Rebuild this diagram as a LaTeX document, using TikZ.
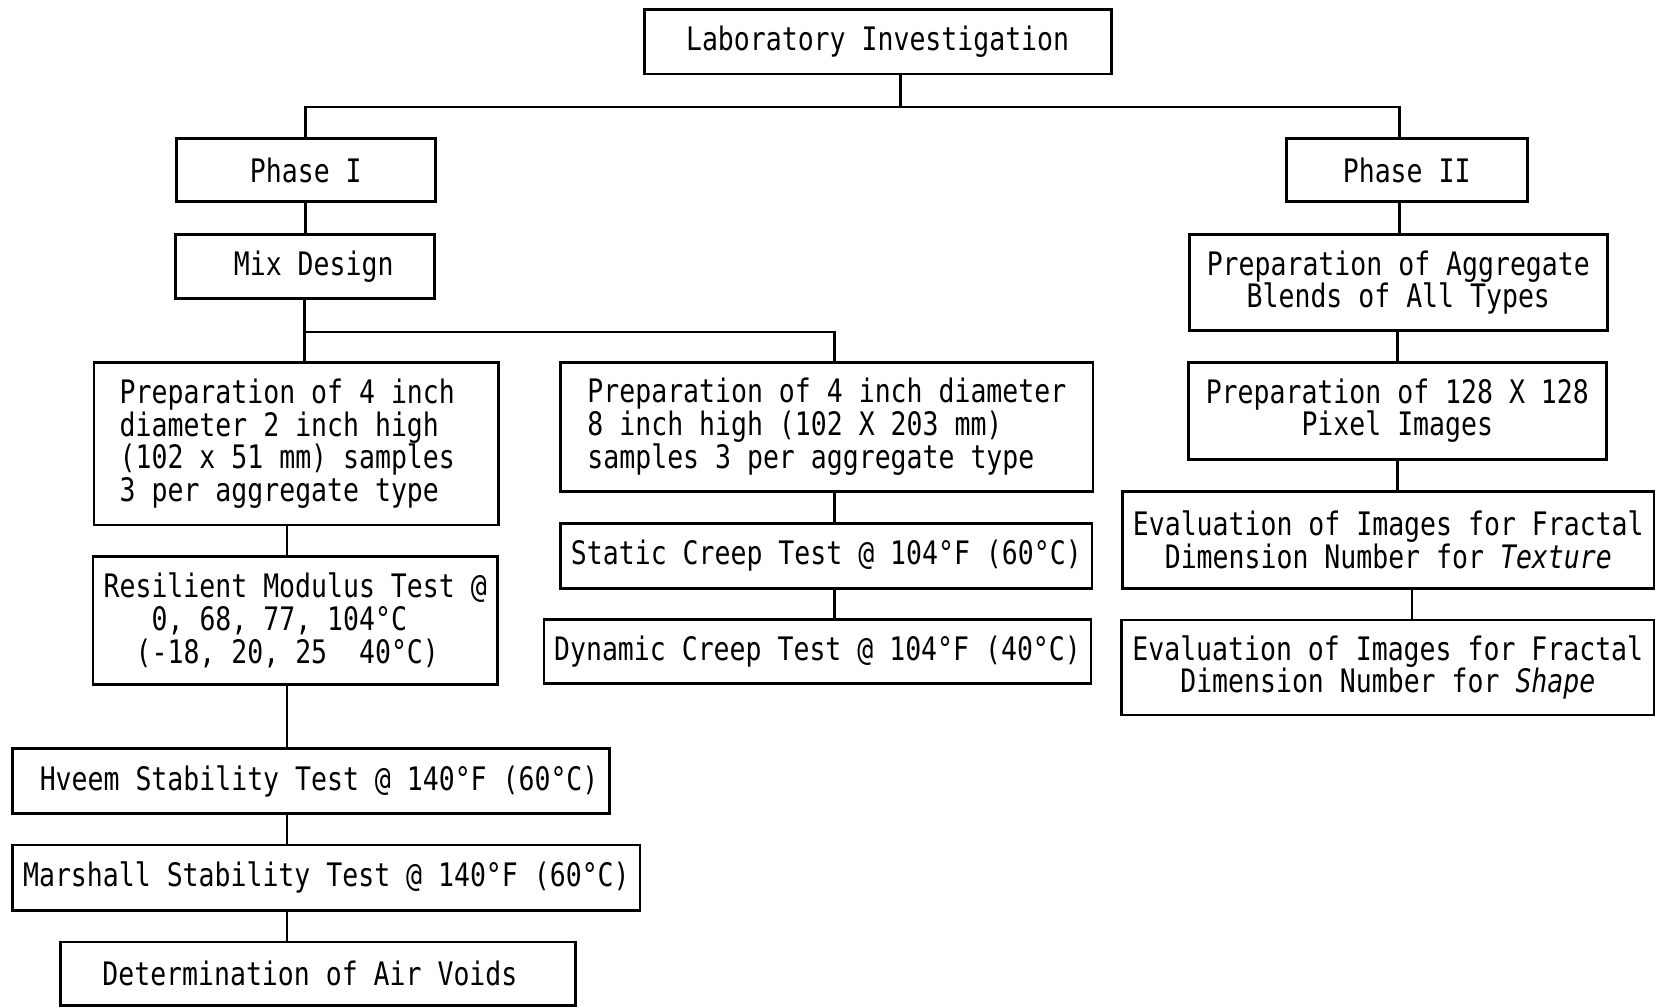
\documentclass[tikz,border=0pt]{standalone}
\usepackage{fontspec}
\newfontfamily\chartfont[FakeStretch=0.82]{DejaVu Sans Mono}

\begin{document}
\begin{tikzpicture}[line width=0.8pt, font=\chartfont\fontsize{9.2pt}{9.3pt}\selectfont,
    flowbox/.style={draw, inner sep=1pt, align=center},
    leftbox/.style={flowbox, align=left}]
    \useasboundingbox[fill=white] (0,0) rectangle (16.56,-10.08);
    % stems of the columns
    \coordinate (lstem) at (2.87,0);
    \coordinate (mstem) at (8.345,0);
    \coordinate (rstem) at (13.975,0);
    % top
    \node[flowbox, minimum width=4.67cm, minimum height=0.645cm] (lab) at (8.776,-0.418) {Laboratory Investigation};
    \node[flowbox, minimum width=2.587cm, minimum height=0.634cm] (phase1) at (3.058,-1.70) {Phase I};
    \node[flowbox, minimum width=2.408cm, minimum height=0.634cm] (phase2) at (14.067,-1.70) {Phase II};
    % phase I
    \node[flowbox, minimum width=2.588cm, minimum height=0.645cm] (mix) at (3.047,-2.666) {\hspace*{0.18cm}Mix Design};
    \node[leftbox, minimum width=4.045cm, minimum height=1.627cm] (prep_small) at (2.963,-4.436) {Preparation of 4 inch\\diameter 2 inch high\\(102 x 51 mm) samples\rule{0.18cm}{0pt}\\3 per aggregate type};
    \node[leftbox, minimum width=5.322cm, minimum height=1.289cm] (prep_tall) at (8.269,-4.267) {Preparation of 4 inch diameter\\8 inch high (102 X 203 mm)\\samples 3 per aggregate type};
    \node[leftbox, minimum width=4.045cm, minimum height=1.278cm] (resilient) at (2.952,-6.205) {Resilient Modulus Test @\\\hspace*{0.48cm}0, 68, 77, 104°C\\\hspace*{0.32cm}(-18, 20, 25\ \ 40°C)};
    \node[flowbox, minimum width=5.967cm, minimum height=0.644cm] (hveem) at (3.111,-7.81) {\hspace*{0.16cm}Hveem Stability Test @ 140°F (60°C)};
    \node[flowbox, minimum width=6.273cm, minimum height=0.655cm] (marshall) at (3.264,-8.777) {Marshall Stability Test @ 140°F (60°C)};
    \node[flowbox, minimum width=5.154cm, minimum height=0.634cm] (airvoids) at (3.179,-9.737) {Determination of Air Voids\rule{0.16cm}{0pt}};
    \node[flowbox, minimum width=5.312cm, minimum height=0.644cm] (static) at (8.264,-5.56) {Static Creep Test @ 104°F (60°C)};
    \node[flowbox, minimum width=5.471cm, minimum height=0.634cm] (dynamic) at (8.175,-6.516) {Dynamic Creep Test @ 104°F (40°C)};
    % phase II
    \node[flowbox, minimum width=4.182cm, minimum height=0.962cm] (blends) at (13.983,-2.825) {Preparation of Aggregate\\Blends of All Types};
    \node[flowbox, minimum width=4.183cm, minimum height=0.972cm] (pixels) at (13.973,-4.108) {Preparation of 128 X 128\\Pixel Images};
    \node[flowbox, minimum width=5.313cm, minimum height=0.971cm] (texture) at (13.883,-5.397) {Evaluation of Images for Fractal\\Dimension Number for \textit{Texture}};
    \node[flowbox, minimum width=5.323cm, minimum height=0.951cm] (shape) at (13.878,-6.675) {Evaluation of Images for Fractal\\Dimension Number for \textit{Shape}};
    % connectors
    \draw ([xshift=2.3mm]lab.south) -- ++(0,-0.316) coordinate (trunk);
    \draw (phase1.north) |- (trunk) -| ([xshift=-0.74mm]phase2.north);
    \draw (phase1.south) -- (phase1.south |- mix.north);
    \draw (mix.south) -- (mix.south |- prep_small.north);
    \draw (mix.south) ++(0,-0.317) -| (prep_tall.north -| mstem);
    \draw (prep_small.south -| lstem) -- (resilient.north -| lstem);
    \draw (resilient.south -| lstem) -- (hveem.north -| lstem);
    \draw (hveem.south -| lstem) -- (marshall.north -| lstem);
    \draw (marshall.south -| lstem) -- (airvoids.north -| lstem);
    \draw (prep_tall.south -| mstem) -- (static.north -| mstem);
    \draw (static.south -| mstem) -- (dynamic.north -| mstem);
    \draw ([xshift=-0.74mm]phase2.south) -- ([xshift=-0.74mm]phase2.south |- blends.north);
    \draw (blends.south -| rstem) -- (pixels.north -| rstem);
    \draw (pixels.south -| rstem) -- (texture.north -| rstem);
    \draw ([xshift=2.37mm]texture.south) -- ([xshift=2.37mm]texture.south |- shape.north);
\end{tikzpicture}
\end{document}
